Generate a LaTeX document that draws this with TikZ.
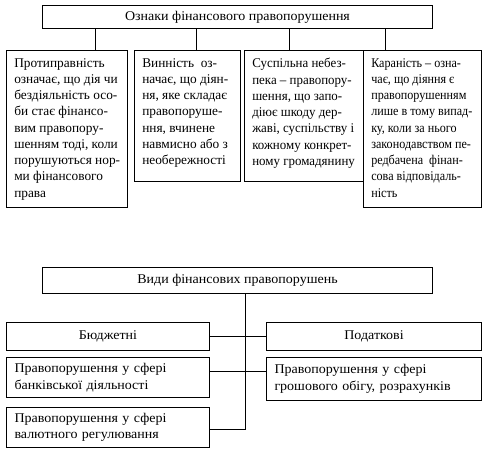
\documentclass[tikz,border=0pt]{standalone}
\usepackage{fontspec}
\setmainfont{Liberation Serif}
\newfontfamily\widefont{Liberation Serif}[FakeStretch=1.05]
\newfontfamily\narrowfont{Liberation Serif}[FakeStretch=0.97]
\newfontfamily\narrowerfont{Liberation Serif}[FakeStretch=0.91]
\begin{document}
\begin{tikzpicture}[x=0.75pt,y=-0.75pt,
  box/.style={draw, line width=0.75pt, inner sep=0pt, anchor=north west},
  txt/.style={inner sep=0pt, anchor=north west, align=left},
  lbox/.style={box, align=left, inner xsep=8*0.75pt},
  ln/.style={line width=0.75pt}]
\fill[white] (0,0) rectangle (489,451);
\useasboundingbox (0,0) rectangle (489,451);
\tikzset{every node/.append style={font=\fontsize{10pt}{12.2pt}\selectfont}}
% ---- top part ----
\node[box, minimum width=390*0.75pt, minimum height=23*0.75pt, font=\fontsize{10pt}{12.2pt}\widefont] (t1) at (42,5) {Ознаки фінансового правопорушення};
\node[box, minimum width=121*0.75pt, minimum height=157*0.75pt] (b1) at (6,50) {};
\node[box, minimum width=106*0.75pt, minimum height=131*0.75pt] (b2) at (134,50) {};
\node[box, minimum width=119*0.75pt, minimum height=131*0.75pt] (b3) at (244,50) {};
\node[box, minimum width=118*0.75pt, minimum height=157*0.75pt] (b4) at (363,50) {};
\node[txt] (b1t) at ([shift={(8,8)}]b1.north west) {Протиправність\\означає, що дія чи\\бездіяльність осо-\\би стає фінансо-\\вим правопору-\\шенням тоді, коли\\порушуються нор-\\ми фінансового\\права};
\node[txt] (b2t) at ([shift={(8,8)}]b2.north west) {Винність\ \ оз-\\начає, що діян-\\ня, яке складає\\правопоруше-\\ння, вчинене\\навмисно або з\\необережності};
\node[txt, font=\fontsize{10pt}{12.2pt}\narrowfont] (b3t) at ([shift={(8,8)}]b3.north west) {Суспільна небез-\\пека – правопору-\\шення, що запо-\\діює шкоду дер-\\жаві, суспільству і\\кожному конкрет-\\ному громадянину};
\node[txt, font=\fontsize{10pt}{12.2pt}\narrowerfont] (b4t) at ([shift={(8,8)}]b4.north west) {Караність – озна-\\чає, що діяння є\\правопорушенням\\лише в тому випад-\\ку, коли за нього\\законодавством пе-\\редбачена\ \ фінан-\\сова відповідаль-\\ність};
\draw[ln] (t1.south -| 95,0) -- (95,0 |- b1.north);
\draw[ln] (t1.south -| 196,0) -- (196,0 |- b2.north);
\draw[ln] (t1.south -| 289,0) -- (289,0 |- b3.north);
\draw[ln] (t1.south -| 385,0) -- (385,0 |- b4.north);
% ---- bottom part ----
\node[box, minimum width=390*0.75pt, minimum height=26*0.75pt, font=\fontsize{10pt}{12.2pt}\widefont] (t2) at (42,267) {Види фінансових правопорушень};
\node[box, minimum width=203*0.75pt, minimum height=28*0.75pt, font=\fontsize{10pt}{12.4pt}\widefont] (c1) at (6,322) {Бюджетні};
\node[lbox, minimum width=203*0.75pt, minimum height=40*0.75pt, text width=187*0.75pt, font=\fontsize{10pt}{12.4pt}\widefont] (c2) at (6,357) {Правопорушення у сфері\\банківської діяльності};
\node[lbox, minimum width=203*0.75pt, minimum height=40*0.75pt, text width=187*0.75pt, font=\fontsize{10pt}{12.4pt}\widefont] (c3) at (6,407) {Правопорушення у сфері\\валютного регулювання};
\node[box, minimum width=215*0.75pt, minimum height=28*0.75pt, font=\fontsize{10pt}{12.4pt}\widefont] (d1) at (266,322) {Податкові};
\node[lbox, minimum width=215*0.75pt, minimum height=43*0.75pt, text width=199*0.75pt, font=\fontsize{10pt}{12.4pt}\widefont] (d2) at (266,357) {Правопорушення у сфері\\грошового обігу, розрахунків};
\coordinate (tr) at (t2.south -| 245,0);
\draw[ln] (tr) |- (c3.east |- 0,429);
\draw[ln] (c1.east) -- (d1.west);
\draw[ln] (c2.east |- 0,371) -- (d2.west |- 0,371);
\end{tikzpicture}
\end{document}
